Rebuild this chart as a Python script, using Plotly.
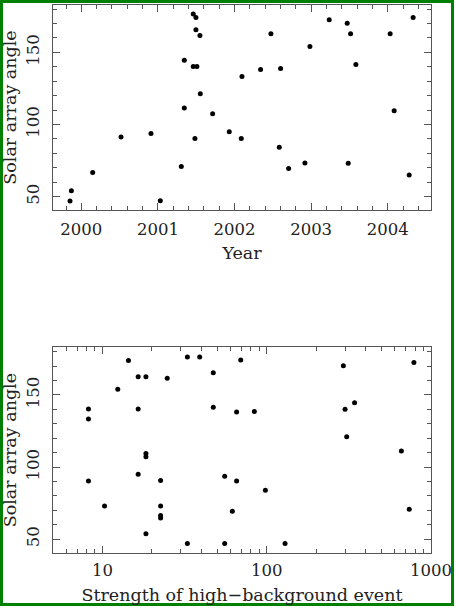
import plotly.graph_objects as go

# Top panel: solar array angle vs. year
top_year = [1999.852, 1999.870, 2000.148, 2000.518, 2000.909, 2001.031, 2001.305,
            2001.344, 2001.344, 2001.461, 2001.496, 2001.496, 2001.548, 2001.461,
            2001.509, 2001.553, 2001.483, 2001.714, 2001.931, 2002.088, 2002.097,
            2002.340, 2002.475, 2002.601, 2002.584, 2002.706, 2002.919, 2002.984,
            2003.236, 2003.471, 2003.515, 2003.584, 2003.484, 2004.032, 2004.084,
            2004.280, 2004.332]
top_angle = [47.0, 54.2, 66.8, 91.3, 93.8, 47.2, 71.0,
             144.6, 111.4, 176.5, 174.2, 165.6, 161.7, 140.2,
             140.2, 121.3, 90.4, 107.5, 95.0, 90.4, 133.3,
             138.2, 162.9, 138.8, 84.2, 69.6, 73.3, 154.1,
             172.5, 170.2, 162.9, 141.6, 73.1, 162.9, 109.5,
             65.0, 174.2]

# Bottom panel: solar array angle vs. strength of high-background event
bottom_strength = [8.22, 8.22, 8.22, 10.3, 12.4, 14.4, 16.5, 16.5, 16.5, 18.4,
                   18.4, 18.4, 18.4, 22.6, 22.6, 22.6, 22.6, 24.8, 32.9, 32.9,
                   39.1, 47.3, 47.3, 55.5, 55.5, 61.8, 65.6, 65.6, 69.5, 84.1,
                   98.2, 129.4, 293.0, 300.0, 307.0, 343.0, 661.0, 738.0, 788.0]
bottom_angle = [140.2, 133.3, 90.4, 73.1, 153.9, 173.9, 162.6, 140.2, 95.0, 162.6,
                109.5, 107.2, 53.9, 90.8, 73.1, 66.4, 64.8, 161.5, 176.2, 47.0,
                176.2, 165.4, 141.4, 93.6, 47.0, 69.4, 138.2, 90.4, 174.2, 138.6,
                83.9, 47.0, 170.2, 140.0, 121.1, 144.6, 111.2, 70.8, 172.5]

year_ticks = [2000, 2001, 2002, 2003, 2004]
angle_ticks = [50, 100, 150]
strength_ticks = [10, 100, 1000]

FONT = "DejaVu Serif"
TXT = "#222222"
LINE = "#555555"
TICKFS = 16.5
TITLEFS = 17.5

fig = go.Figure()
fig.add_trace(go.Scatter(x=top_year, y=top_angle, mode="markers",
                         marker=dict(color="black", size=5), xaxis="x", yaxis="y",
                         showlegend=False, hoverinfo="skip"))
fig.add_trace(go.Scatter(x=bottom_strength, y=bottom_angle, mode="markers",
                         marker=dict(color="black", size=5), xaxis="x2", yaxis="y2",
                         showlegend=False, hoverinfo="skip"))

common = dict(showline=True, linecolor=LINE, linewidth=1, mirror="ticks",
              ticks="inside", ticklen=7, tickcolor=LINE, tickwidth=1,
              showgrid=False, zeroline=False,
              tickfont=dict(family=FONT, size=TICKFS, color=TXT))
tfont = dict(family=FONT, size=TITLEFS, color=TXT)

ml, mr, mt, mb = 53, 25, 5, 55
W, H = 456, 608
pw, ph = W - ml - mr, H - mt - mb

def py(p):
    return (H - mb - p) / ph

def px(p):
    return (p - ml) / pw

fig.update_layout(
    width=W, height=H,
    margin=dict(l=ml, r=mr, t=mt, b=mb),
    paper_bgcolor="white", plot_bgcolor="white",
    xaxis=dict(**common, range=[1999.63, 2004.565], tickvals=year_ticks,
               ticktext=[str(v) for v in year_ticks], anchor="y",
               minor=dict(ticks="inside", ticklen=4, dtick=0.2, tick0=2000, tickcolor=LINE),
               ticklabelstandoff=4,
               title=dict(text="Year", font=tfont, standoff=8)),
    yaxis=dict(**common, range=[40.8, 182.8], tickvals=angle_ticks, tickangle=-90,
               domain=[py(210), py(5)], anchor="x",
               minor=dict(ticks="inside", ticklen=4, dtick=10, tick0=0, tickcolor=LINE),
               ticklabelstandoff=6,
               title=dict(text="Solar array angle", font=tfont, standoff=6)),
    xaxis2=dict(**common, type="log", range=[0.699, 3.0005], tickvals=strength_ticks,
                ticktext=[str(v) for v in strength_ticks], anchor="y2",
                minor=dict(ticks="inside", ticklen=4, dtick="D1", tickcolor=LINE),
                ticklabelstandoff=2,
                title=dict(text="Strength of high\u2212background event",
                           font=tfont, standoff=9)),
    yaxis2=dict(**common, range=[40.5, 183], tickvals=angle_ticks, tickangle=-90,
                domain=[0, py(347.3)], anchor="x2",
                minor=dict(ticks="inside", ticklen=4, dtick=10, tick0=0, tickcolor=LINE),
                ticklabelstandoff=6,
                title=dict(text="Solar array angle", font=tfont, standoff=6)),
    shapes=[dict(type="rect", xref="paper", yref="paper",
                 x0=px(1.5), x1=px(452.5), y0=py(604.5), y1=py(1.5),
                 line=dict(color="#008000", width=3), fillcolor="rgba(0,0,0,0)")],
)

fig.write_html("out.html", config={"displayModeBar": False},
               post_script="document.body.style.margin='0px';document.body.style.overflow='hidden';")
